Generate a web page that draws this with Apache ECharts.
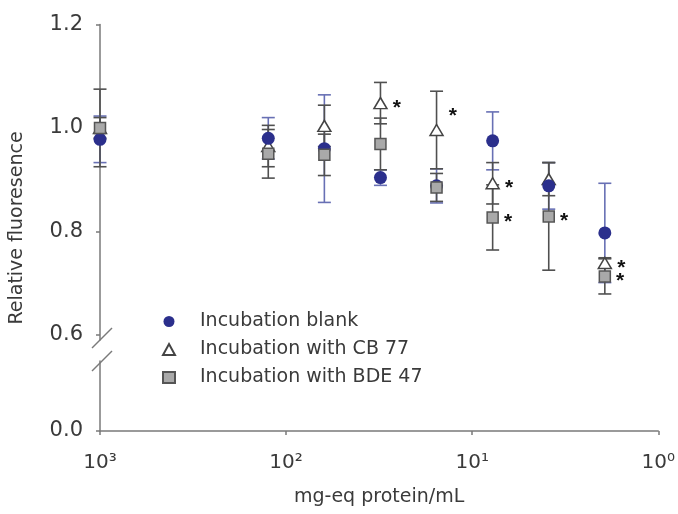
<!DOCTYPE html>
<html><head><meta charset="utf-8">
<script src="https://cdn.jsdelivr.net/npm/echarts@6/dist/echarts.min.js"></script>
<style>html,body{margin:0;padding:0;background:#fff}#c{width:678px;height:514px}</style>
</head><body><div id="c"></div>
<script>
// mg-eq protein/mL (x, log scale, reversed)
const concentrations = [1000, 125, 62.5, 31.25, 15.625, 7.8125, 3.906, 1.953];
// Incubation blank
const blankMean = [0.978, 0.980, 0.960, 0.904, 0.888, 0.975, 0.888, 0.797];
const blankErr  = [0.045, 0.040, 0.104, 0.015, 0.033, 0.056, 0.045, 0.096];
const blankSig  = [0, 0, 0, 0, 0, 0, 0, 0];
// Incubation with CB 77
const cb77Mean = [1.000, 0.965, 1.004, 1.048, 0.996, 0.893, 0.901, 0.739];
const cb77Err  = [0.020, 0.040, 0.040, 0.040, 0.075, 0.040, 0.032, 0.010];
const cb77Sig  = [0, 0, 0, 1, 1, 1, 0, 1];
// Incubation with BDE 47
const bdeMean = [1.000, 0.950, 0.948, 0.969, 0.885, 0.827, 0.829, 0.713];
const bdeErr  = [0.075, 0.047, 0.040, 0.050, 0.027, 0.063, 0.104, 0.034];
const bdeSig  = [0, 0, 0, 0, 0, 1, 1, 1];

const seriesNames = ['Incubation blank', 'Incubation with CB 77', 'Incubation with BDE 47'];
const yTicksUpper = [0.6, 0.8, 1.0, 1.2];
const yTicksLower = [0.0];
const xTickLabels = {1000: '10³', 100: '10²', 10: '10¹', 1: '10⁰'};

const FONT = 'DejaVu Sans';
const AXIS = '#7a7a7a';
const TXT = '#3a3a3a';

function errRender(color) {
  return function (params, api) {
    const x = api.value(0), lo = api.value(1), hi = api.value(2);
    const p1 = api.coord([x, hi]);
    const p2 = api.coord([x, lo]);
    const w = 6.5;
    const style = {stroke: color, lineWidth: 1.6, fill: null};
    return {type: 'group', children: [
      {type: 'line', shape: {x1: p1[0], y1: p1[1], x2: p2[0], y2: p2[1]}, style: style},
      {type: 'line', shape: {x1: p1[0] - w, y1: p1[1], x2: p1[0] + w, y2: p1[1]}, style: style},
      {type: 'line', shape: {x1: p2[0] - w, y1: p2[1], x2: p2[0] + w, y2: p2[1]}, style: style}
    ]};
  };
}
function errData(means, errs) {
  return concentrations.map((c, i) => [c, means[i] - errs[i], means[i] + errs[i]]);
}
function ptData(means, sig, special) {
  return concentrations.map((c, i) => {
    const d = {value: [c, means[i]]};
    if (sig[i]) {
      d.label = {show: true};
      if (special && special[i]) d.label.offset = special[i];
    }
    return d;
  });
}
const starLabel = {
  show: false, formatter: '*', position: 'right', distance: 5,
  fontSize: 21, fontWeight: 'bold', color: '#111', fontFamily: 'Liberation Sans',
  offset: [0, 5]
};

const option = {
  animation: false,
  backgroundColor: '#fff',
  grid: [
    {left: 100, right: 19, top: 24.5, bottom: 174},
    {left: 100, right: 19, top: 361, bottom: 83}
  ],
  xAxis: [
    {gridIndex: 0, type: 'log', logBase: 10, min: 1, max: 1000, inverse: true, show: false},
    {gridIndex: 1, type: 'log', logBase: 10, min: 1, max: 1000, inverse: true,
     axisLine: {lineStyle: {color: AXIS, width: 1.5}},
     axisTick: {length: 4, lineStyle: {color: AXIS, width: 1.5}},
     minorTick: {show: false}, splitLine: {show: false},
     axisLabel: {fontFamily: FONT, fontSize: 20, color: TXT, margin: 22,
       formatter: v => xTickLabels[Math.round(v)] || ''},
     name: 'mg-eq protein/mL', nameLocation: 'middle', nameGap: 57,
     nameTextStyle: {fontFamily: FONT, fontSize: 19, color: TXT}}
  ],
  yAxis: [
    {gridIndex: 0, type: 'value', min: 0.59, max: 1.2,
     axisLine: {show: true, lineStyle: {color: AXIS, width: 1.5}},
     axisTick: {show: true, length: 4, customValues: yTicksUpper, lineStyle: {color: AXIS, width: 1.5}},
     splitLine: {show: false},
     axisLabel: {customValues: yTicksUpper, fontFamily: FONT, fontSize: 21, color: TXT, margin: 17,
       formatter: v => Number(v).toFixed(1)}},
    {gridIndex: 1, type: 'value', min: 0, max: 0.135,
     axisLine: {show: true, lineStyle: {color: AXIS, width: 1.5}},
     axisTick: {show: true, length: 4, customValues: yTicksLower, lineStyle: {color: AXIS, width: 1.5}},
     splitLine: {show: false},
     axisLabel: {customValues: yTicksLower, fontFamily: FONT, fontSize: 21, color: TXT, margin: 17,
       formatter: v => Number(v).toFixed(1)}}
  ],
  legend: {
    orient: 'vertical', left: 157, top: 307, itemWidth: 12, itemHeight: 11, itemGap: 9,
    textStyle: {fontFamily: FONT, fontSize: 19, color: TXT, padding: [0, 0, 0, 20]},
    data: seriesNames
  },
  graphic: [
    {type: 'text', x: 17, y: 228, rotation: Math.PI / 2,
     style: {text: 'Relative fluoresence', font: '19px "DejaVu Sans"', fill: TXT,
             textAlign: 'center', textVerticalAlign: 'middle'}},
    {type: 'line', shape: {x1: 92, y1: 348, x2: 112, y2: 328}, style: {stroke: AXIS, lineWidth: 1.5}},
    {type: 'line', shape: {x1: 92, y1: 371, x2: 112, y2: 351}, style: {stroke: AXIS, lineWidth: 1.5}}
  ],
  series: [
    {type: 'custom', name: 'errBlank', renderItem: errRender('#6870b4'), z: 1,
     xAxisIndex: 0, yAxisIndex: 0, encode: {x: 0, y: [1, 2]}, data: errData(blankMean, blankErr)},
    {type: 'custom', name: 'errCB', renderItem: errRender('#505050'), z: 1,
     xAxisIndex: 0, yAxisIndex: 0, encode: {x: 0, y: [1, 2]}, data: errData(cb77Mean, cb77Err)},
    {type: 'custom', name: 'errBDE', renderItem: errRender('#505050'), z: 1,
     xAxisIndex: 0, yAxisIndex: 0, encode: {x: 0, y: [1, 2]}, data: errData(bdeMean, bdeErr)},
    {type: 'scatter', name: seriesNames[1], xAxisIndex: 0, yAxisIndex: 0, z: 3,
     symbol: 'triangle', symbolSize: [13, 11],
     itemStyle: {color: '#ffffff', borderColor: '#444', borderWidth: 1.5, opacity: 1},
     label: starLabel,
     data: ptData(cb77Mean, cb77Sig, {4: [0, -14]})},
    {type: 'scatter', name: seriesNames[0], xAxisIndex: 0, yAxisIndex: 0, z: 4,
     symbol: 'circle', symbolSize: 13,
     itemStyle: {color: '#2b2f8c', opacity: 1},
     label: starLabel,
     data: ptData(blankMean, blankSig)},
    {type: 'scatter', name: seriesNames[2], xAxisIndex: 0, yAxisIndex: 0, z: 5,
     symbol: 'rect', symbolSize: 11,
     itemStyle: {color: '#a9a9a9', borderColor: '#555', borderWidth: 1.5, opacity: 1},
     label: starLabel,
     data: ptData(bdeMean, bdeSig)}
  ]
};
const chart = echarts.init(document.getElementById('c'));
chart.setOption(option);
</script>
</body></html>
